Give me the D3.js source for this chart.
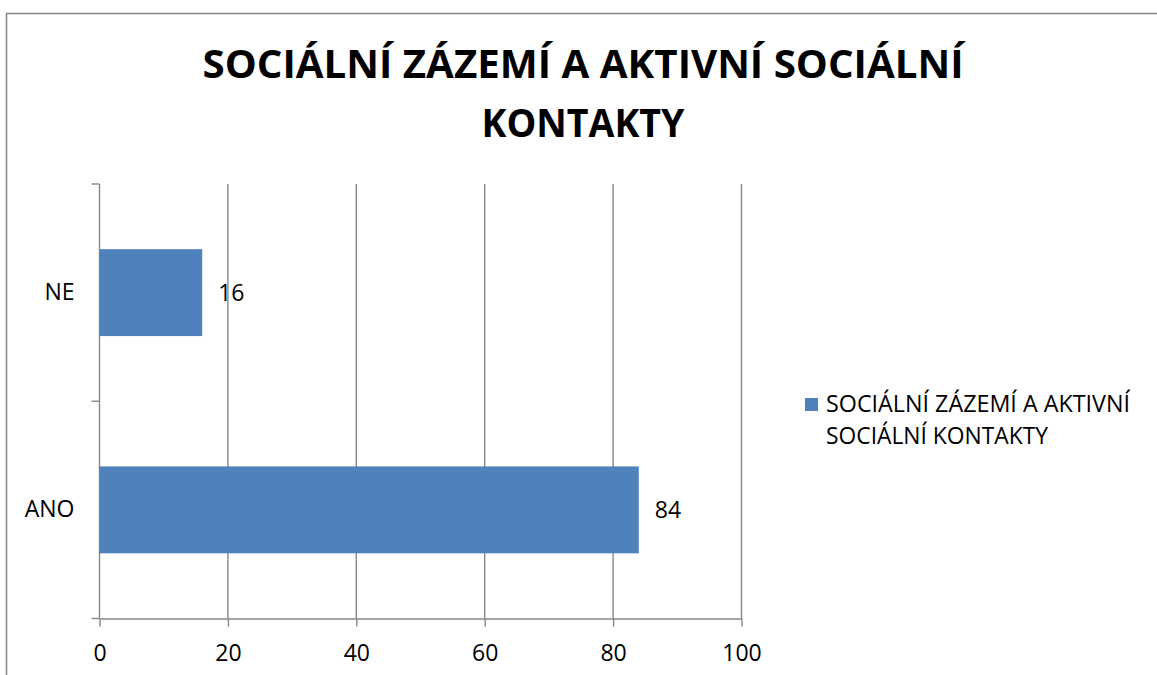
<!DOCTYPE html>
<html>
<head>
<meta charset="utf-8">
<script src="https://cdn.jsdelivr.net/npm/d3@7"></script>
<style>
  body { margin: 0; background: #fff; }
  svg { display: block; }
  text { font-family: "Open Sans", "Noto Sans", sans-serif; fill: #000; }
</style>
</head>
<body>
<div id="viz"></div>
<script>
// chart data
var categories = ["ANO", "NE"];
var values = [84, 16];
var xTicks = [0, 20, 40, 60, 80, 100];
var titleLines = ["SOCIÁLNÍ ZÁZEMÍ A AKTIVNÍ SOCIÁLNÍ", "KONTAKTY"];
var legendLines = ["SOCIÁLNÍ ZÁZEMÍ A AKTIVNÍ", "SOCIÁLNÍ KONTAKTY"];

var W = 1157, H = 675;
var barColor = "#4f81bd";
var gridColor = "#878787";
var labelSize = 23;

var plot = { left: 99.5, right: 741.5, top: 184, bottom: 618.5 };

var svg = d3.select("#viz").append("svg").attr("width", W).attr("height", H);

// outer chart border (runs off the right and bottom edge)
svg.append("rect")
  .attr("x", 6.5).attr("y", 13.5)
  .attr("width", W + 20).attr("height", H + 20)
  .attr("fill", "none").attr("stroke", "#8a8a8a").attr("stroke-width", 1.6);

// title
var title = svg.append("g");
var titleWidths = [761, 203];
titleLines.forEach(function(t, i) {
  title.append("text")
    .attr("x", 583).attr("y", 78 + i * 58.6)
    .attr("text-anchor", "middle")
    .attr("font-size", 39).attr("font-weight", "bold")
    .attr("textLength", titleWidths[i]).attr("lengthAdjust", "spacingAndGlyphs")
    .text(t);
});

var x = d3.scaleLinear().domain([0, 100]).range([plot.left, plot.right]);
var y = d3.scaleBand()
  .domain(categories.slice().reverse())
  .range([plot.top, plot.bottom])
  .paddingInner(0.6).paddingOuter(0.3);

// vertical gridlines
svg.append("g").selectAll("line")
  .data(xTicks.filter(function(d) { return d > 0; }))
  .enter().append("line")
  .attr("x1", function(d) { return x(d); }).attr("x2", function(d) { return x(d); })
  .attr("y1", plot.top).attr("y2", plot.bottom)
  .attr("stroke", gridColor).attr("stroke-width", 1.4);

// bottom axis
var xAxis = svg.append("g")
  .attr("transform", "translate(0," + plot.bottom + ")")
  .call(d3.axisBottom(x).tickValues(xTicks).tickSize(8).tickPadding(18).tickSizeOuter(0));
xAxis.select(".domain").attr("stroke", gridColor).attr("stroke-width", 1.4);
xAxis.selectAll(".tick line").attr("stroke", gridColor).attr("stroke-width", 1.4);
xAxis.selectAll(".tick text").attr("font-size", labelSize).attr("font-family", null).attr("fill", "#000");

// left axis: line, ticks on band edges, labels centred on bands
var step = y.step();
var edges = [plot.top].concat(y.domain().map(function(c) {
  return y(c) + y.bandwidth() + step * y.paddingInner() / 2;
}));
edges[edges.length - 1] = plot.bottom;
svg.append("line")
  .attr("x1", plot.left).attr("x2", plot.left)
  .attr("y1", plot.top).attr("y2", plot.bottom)
  .attr("stroke", gridColor).attr("stroke-width", 1.4);
svg.append("g").selectAll("line").data(edges).enter().append("line")
  .attr("x1", plot.left - 8).attr("x2", plot.left)
  .attr("y1", function(d) { return d; }).attr("y2", function(d) { return d; })
  .attr("stroke", gridColor).attr("stroke-width", 1.4);

var yAxis = svg.append("g")
  .attr("transform", "translate(" + plot.left + ",0)")
  .call(d3.axisLeft(y).tickSize(0).tickPadding(25));
yAxis.select(".domain").remove();
yAxis.selectAll(".tick text").attr("font-size", labelSize).attr("font-family", null).attr("fill", "#000");

// bars
svg.append("g").selectAll("rect")
  .data(categories)
  .enter().append("rect")
  .attr("x", x(0))
  .attr("y", function(d) { return y(d); })
  .attr("width", function(d, i) { return x(values[i]) - x(0); })
  .attr("height", y.bandwidth())
  .attr("fill", barColor);

// value labels
svg.append("g").selectAll("text")
  .data(categories)
  .enter().append("text")
  .attr("x", function(d, i) { return x(values[i]) + 16; })
  .attr("y", function(d) { return y(d) + y.bandwidth() / 2 + 8; })
  .attr("font-size", labelSize)
  .text(function(d, i) { return values[i]; });

// legend
var legend = svg.append("g").attr("transform", "translate(805,398)");
legend.append("rect").attr("width", 13).attr("height", 13).attr("fill", barColor);
var legendWidths = [304, 222];
legendLines.forEach(function(t, i) {
  legend.append("text")
    .attr("x", 21).attr("y", 14 + i * 32)
    .attr("font-size", labelSize)
    .attr("textLength", legendWidths[i]).attr("lengthAdjust", "spacingAndGlyphs")
    .text(t);
});
</script>
</body>
</html>
